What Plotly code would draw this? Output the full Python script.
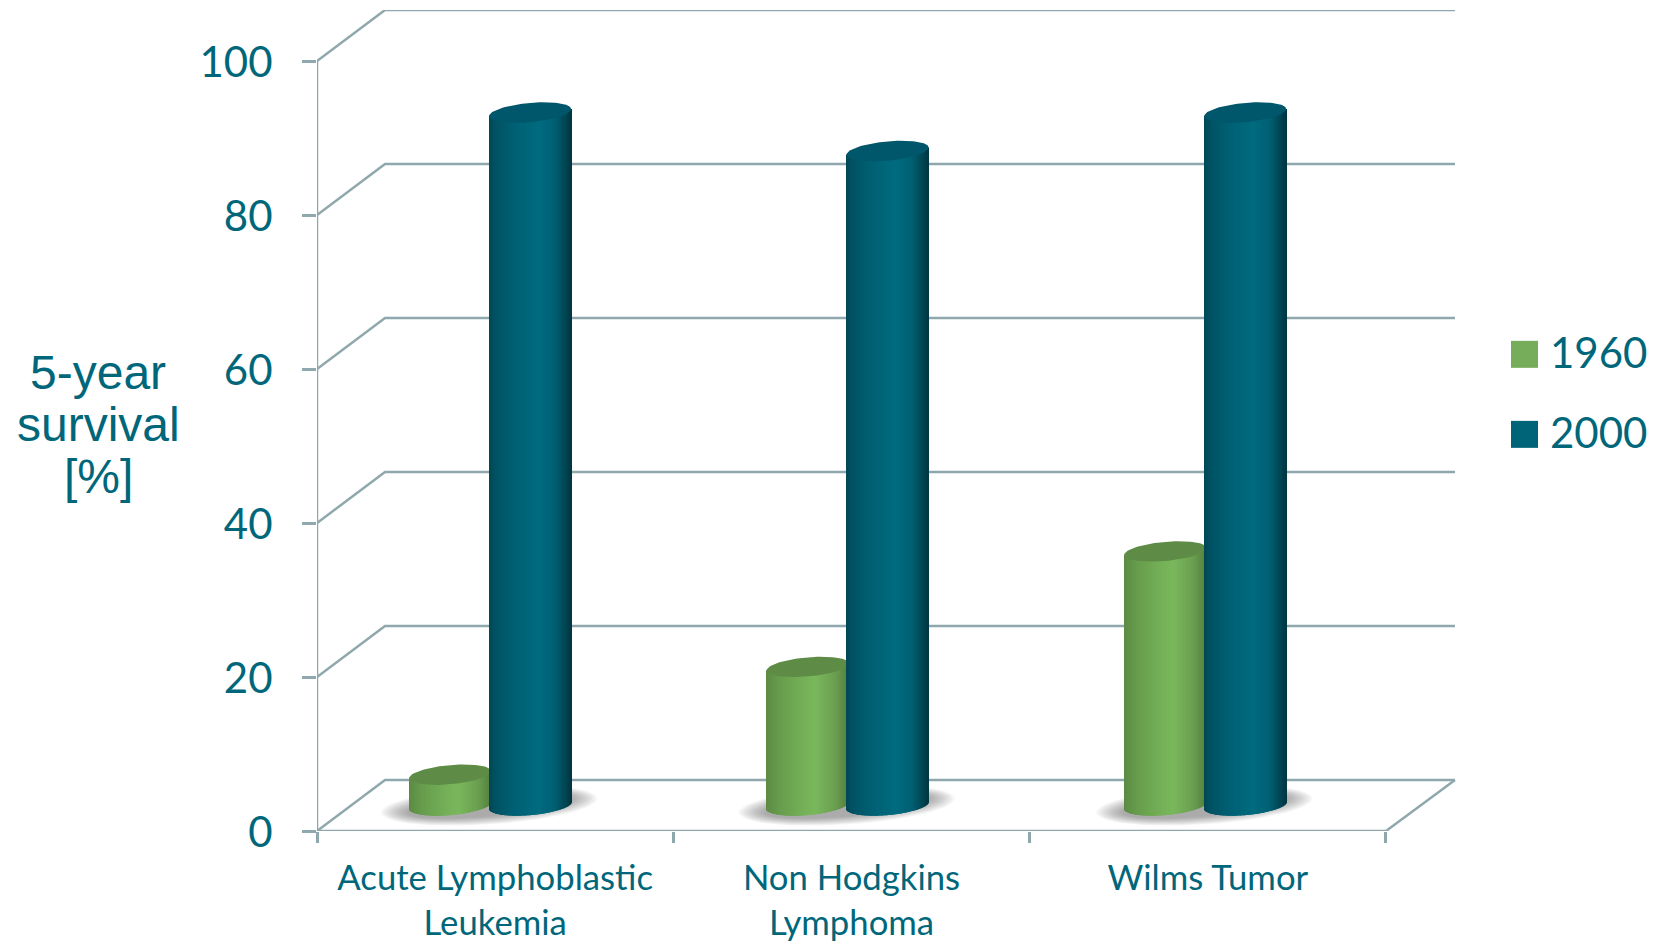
import numpy as np
import plotly.graph_objects as go

# Chart data
categories = ["Acute Lymphoblastic<br>Leukemia", "Non Hodgkins<br>Lymphoma", "Wilms Tumor"]
values_1960 = [4, 18, 33]
values_2000 = [90, 85, 90]
y_ticks = [0, 20, 40, 60, 80, 100]
series_names = ["1960", "2000"]
series_colors = ["#76ad5b", "#006478"]

TEXT = "#00677b"
GRID = "#8fa8ae"
FONT = "Lato, Carlito, sans-serif"

# Pixel sizes of one data unit, and the oblique depth of the floor and walls
UX, UY = 356.33, 7.697
DEPTH_X, DEPTH_Y = 68 / UX, 51 / UY
X_END = 3 + DEPTH_X + 1 / UX
X_MAX = (1655 - 317) / UX

# Cylinder proportions
HALF_W = 41 / UX
CAP_H = 9.6 / UY
CAP_TILT = 3.5 / UY
STEP = 1.0035
BLUE_OFFSET = 0.598
GREEN_OFFSET = BLUE_OFFSET - 80 / UX


def shade(stops, t):
    pos = [s[0] for s in stops]
    rgb = [np.interp(t, pos, [s[1][k] for s in stops]) for k in range(3)]
    return "rgb(%d,%d,%d)" % tuple(rgb)


GREEN_STOPS = [(0, (92, 138, 68)), (0.15, (102, 156, 76)), (0.45, (117, 176, 88)),
               (0.6, (122, 184, 92)), (0.85, (106, 158, 79)), (1, (84, 126, 62))]
BLUE_STOPS = [(0, (0, 72, 86)), (0.1, (0, 84, 101)), (0.3, (0, 96, 115)),
              (0.6, (0, 107, 128)), (0.8, (0, 96, 115)), (0.95, (0, 66, 79)), (1, (0, 54, 65))]


def cylinder_traces(name, values, offset, stops, cap_color, z):
    xs, bases, heights, colors = [], [], [], []
    cap_x, cap_y = [], []
    slices = 82
    for i, value in enumerate(values):
        cx = offset + STEP * i
        floor = DEPTH_Y / 2
        for s in range(slices):
            t = (s + 0.5) / slices
            u = 2 * t - 1
            lower = floor - CAP_H * np.sqrt(1 - u * u) + CAP_TILT * u
            top = floor + value + CAP_TILT * u
            xs.append(cx + u * HALF_W)
            bases.append(lower)
            heights.append(top - lower)
            colors.append(shade(stops, t))
        a = np.linspace(0, 2 * np.pi, 90)
        cap_x += list(cx + HALF_W * np.cos(a)) + [None]
        cap_y += list(floor + value + CAP_H * np.sin(a) + CAP_TILT * np.cos(a)) + [None]
    body = go.Bar(x=xs, y=heights, base=bases, width=2 * HALF_W / slices * 1.1,
                  marker=dict(color=colors, line=dict(width=0)), zorder=z,
                  showlegend=False, hoverinfo="skip", name=name)
    cap = go.Scatter(x=cap_x, y=cap_y, mode="lines", fill="toself", fillcolor=cap_color,
                     line=dict(width=0, color=cap_color), zorder=z + 1,
                     showlegend=False, hoverinfo="skip", cliponaxis=False)
    return [body, cap]


fig = go.Figure()

# Walls and floor
line_style = dict(color=GRID, width=2.5)
for v in y_ticks:
    fig.add_trace(go.Scatter(x=[0, DEPTH_X, X_END], y=[v, v + DEPTH_Y, v + DEPTH_Y], mode="lines",
                             line=line_style, showlegend=False,
                             hoverinfo="skip", cliponaxis=False, zorder=0))
fig.add_trace(go.Scatter(x=[0, 3, X_END], y=[0, 0, DEPTH_Y], mode="lines",
                         line=line_style, showlegend=False,
                         hoverinfo="skip", cliponaxis=False, zorder=0))
fig.add_trace(go.Scatter(x=[0, 0], y=[0, y_ticks[-1]], mode="lines",
                         line=line_style, showlegend=False,
                         hoverinfo="skip", cliponaxis=False, zorder=0))

# Soft floor shadows under each pair of cylinders
for i in range(len(categories)):
    cx = BLUE_OFFSET + STEP * i - 41 / UX
    for k in range(12):
        f = 1 - k * 0.022
        a = np.linspace(0, 2 * np.pi, 70)
        fig.add_trace(go.Scatter(
            x=cx + 108 / UX * f * np.cos(a),
            y=DEPTH_Y / 2 + 19 / UY * f ** 2 * np.sin(a) + 7 / UY * np.cos(a),
            mode="lines", fill="toself", fillcolor="rgba(90,90,90,0.055)",
            line=dict(width=0), showlegend=False, hoverinfo="skip", zorder=1))

for tr in cylinder_traces(series_names[0], values_1960, GREEN_OFFSET, GREEN_STOPS, "#5e8c46", 2):
    fig.add_trace(tr)
for tr in cylinder_traces(series_names[1], values_2000, BLUE_OFFSET, BLUE_STOPS, "#00566a", 4):
    fig.add_trace(tr)

# Key: square swatches with their year beside them
KEY_X = (1524.5 - 317) / UX
KEY_Y = [(831 - 354.5) / UY, (831 - 434.5) / UY]
for name, color, ky in zip(series_names, series_colors, KEY_Y):
    fig.add_trace(go.Scatter(x=[KEY_X], y=[ky], mode="markers", showlegend=False, hoverinfo="skip",
                             cliponaxis=False, zorder=6,
                             marker=dict(symbol="square", size=27, color=color, line=dict(width=0))))
    fig.add_annotation(text=name, x=(1548 - 317) / UX, y=ky + 2 / UY, xref="x", yref="y",
                       xanchor="left", yanchor="middle", showarrow=False,
                       font=dict(family=FONT, size=42, color=TEXT))

# Carries the category labels centred between the boundary ticks
fig.add_trace(go.Scatter(x=[None], y=[None], xaxis="x2", showlegend=False, hoverinfo="skip"))

for line, py in zip(["5-year", "survival", "[%]"], [372, 424.5, 476]):
    fig.add_annotation(text=line, xref="paper", yref="paper",
                       x=(98 - 317) / (1655 - 317), y=(831 - py) / (831 - 10),
                       xanchor="center", yanchor="middle", showarrow=False,
                       font=dict(family="Liberation Sans, Arial, sans-serif", size=48, color=TEXT))

fig.update_layout(
    width=1655, height=944, autosize=False,
    margin=dict(l=317, r=0, t=10, b=113, autoexpand=False),
    paper_bgcolor="white", plot_bgcolor="white",
    barmode="overlay",
    hovermode=False,
    showlegend=False,
    font=dict(family=FONT, color=TEXT),
    xaxis=dict(range=[0, X_MAX], tickmode="array", tickvals=[0, 1, 2, 3], ticktext=["", "", "", ""],
               ticks="outside", ticklen=11, tickwidth=2.5, tickcolor=GRID,
               showgrid=False, zeroline=False, showline=False),
    xaxis2=dict(range=[0, X_MAX], overlaying="x", side="bottom", anchor="y", tickmode="array",
                tickvals=[0.5, 1.5, 2.5], ticktext=categories, ticks="", ticklen=0,
                tickfont=dict(family=FONT, size=34.7, color=TEXT), ticklabelstandoff=23,
                showgrid=False, zeroline=False, showline=False),
    yaxis=dict(range=[0, 100 + DEPTH_Y], tickmode="array", tickvals=y_ticks,
               ticks="outside", ticklen=14, tickwidth=2.5, tickcolor=GRID,
               tickfont=dict(family=FONT, size=42, color=TEXT), ticklabelstandoff=21,
               ticklabelshift=1,
               showgrid=False, zeroline=False, showline=False),
)

fig.write_html("out.html", config=dict(displayModeBar=False))
